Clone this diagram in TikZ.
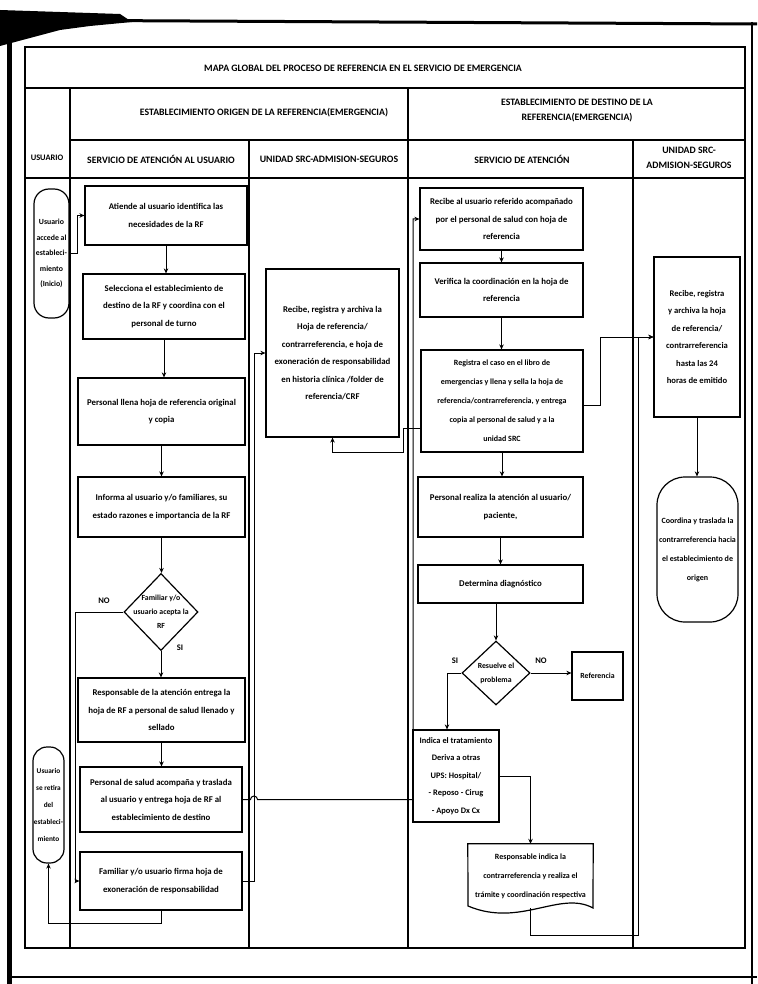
\documentclass[tikz,border=0pt]{standalone}
\usepackage{fontspec}
\setmainfont{Carlito}
\usetikzlibrary{arrows.meta,shapes.geometric,calc}
\begin{document}
\begin{tikzpicture}[x=1pt,y=-1pt,
  txt/.style={font=\fontsize{8.8}{17.5}\selectfont\bfseries},
  box/.style={draw,line width=1.2pt,align=center,inner sep=1pt,txt},
  dec/.style={draw,diamond,line width=1.2pt,inner sep=0pt},
  term/.style={draw,line width=1.2pt,inner sep=0pt},
  gridline/.style={line width=1.3pt},
  flow/.style={line width=1pt,-{Stealth[length=5pt,width=4.5pt]}},
  hdr/.style={font=\fontsize{9.8}{15}\selectfont\bfseries,align=center},
  tag/.style={font=\fontsize{8.5}{10}\selectfont\bfseries},
]
\useasboundingbox (0,0) rectangle (757,984);

% page border of the sheet
\fill (0,10) -- (60,12) -- (120,14) -- (132,22) -- (90,26) -- (60,30) -- (30,38) -- (0,46) -- cycle;
\draw[line width=3pt] (0,20) -- (757,24);
\draw[line width=5pt] (9,20) -- (9,984);
\draw[line width=1.5pt] (9,977) -- (757,977);
\draw[line width=1.2pt] (752,22) -- (752,984);

% table grid
\draw[gridline] (25,47) rectangle (745,948);
\draw[gridline] (25,88) -- (745,88);
\draw[gridline] (70,140) -- (745,140);
\draw[gridline] (25,178) -- (745,178);
\draw[gridline] (70,88) -- (70,948);
\draw[gridline] (249,140) -- (249,948);
\draw[gridline] (408,88) -- (408,948);
\draw[gridline] (633,140) -- (633,948);

% headings
\node[hdr] (title) at (363,68) {MAPA GLOBAL DEL PROCESO DE REFERENCIA EN EL SERVICIO DE EMERGENCIA};
\node[hdr] (orig) at (264,113) {ESTABLECIMIENTO ORIGEN DE LA REFERENCIA(EMERGENCIA)};
\node[hdr] (dest) at (577,111) {ESTABLECIMIENTO DE DESTINO DE LA\\REFERENCIA(EMERGENCIA)};
\node[hdr,font=\fontsize{8.4}{15}\selectfont\bfseries] (h1) at (47,158) {USUARIO};
\node[hdr] (h2) at (161,159) {SERVICIO DE ATENCIÓN AL USUARIO};
\node[hdr] (h3) at (329,159) {UNIDAD SRC-ADMISION-SEGUROS};
\node[hdr] (h4) at (522,159) {SERVICIO DE ATENCIÓN};
\node[hdr] (h5) at (689,158) {UNIDAD SRC-\\ADMISION-SEGUROS};

% usuario
\node[term,rounded corners=15pt,minimum width=35pt,minimum height=129pt] (u1) at (51.5,253.5) {};
\node[align=center,font=\fontsize{7.8}{15.5}\selectfont\bfseries] (u1t) at (u1.center) {Usuario\\accede al\\estableci-\\miento\\(Inicio)};
\node[term,rounded corners=14pt,minimum width=31pt,minimum height=116pt] (u2) at (48.5,805) {};
\node[align=center,font=\fontsize{7.3}{17}\selectfont\bfseries] (u2t) at (u2.center) {Usuario\\se retira\\del\\estableci-\\miento};

% servicio de atencion al usuario
\node[box,minimum width=162pt,minimum height=59pt] (b1) at (166,215.5) {Atiende al usuario identifica las\\necesidades de la RF};
\node[box,minimum width=162pt,minimum height=65pt] (b2) at (164,306.5) {Selecciona el establecimiento de\\destino de la RF y coordina con el\\personal de turno};
\node[box,minimum width=167pt,minimum height=67pt] (b3) at (161.5,411.5) {Personal llena hoja de referencia original\\y copia};
\node[box,minimum width=167pt,minimum height=60pt] (b4) at (161.5,507) {Informa al usuario y/o familiares, su\\estado razones e importancia de la RF};
\node[dec,minimum width=74pt,minimum height=77pt] (d5) at (161,612) {};
\node[align=center,font=\fontsize{7.8}{14}\selectfont\bfseries] (d5t) at (d5.center) {Familiar y/o\\usuario acepta la\\RF};
\node[box,minimum width=167pt,minimum height=64pt] (b6) at (161.5,710) {Responsable de la atención entrega la\\hoja de RF a personal de salud llenado y\\sellado};
\node[box,minimum width=162pt,minimum height=65pt] (b7) at (161,799.5) {Personal de salud acompaña y traslada\\al usuario y entrega hoja de RF al\\establecimiento de destino};
\node[box,minimum width=162pt,minimum height=58pt] (b8) at (161,881) {Familiar y/o usuario firma hoja de\\exoneración de responsabilidad};
\node[tag] (no1) at (104,601) {NO};
\node[tag] (si1) at (180,648) {SI};

% unidad SRC origen
\node[box,minimum width=133pt,minimum height=168pt] (src) at (332.5,353) {Recibe, registra y archiva la\\Hoja de referencia/\\contrarreferencia, e hoja de\\exoneración de responsabilidad\\en historia clínica /folder de\\referencia/CRF};

% servicio de atencion destino
\node[box,minimum width=163pt,minimum height=62pt] (A) at (501.5,219) {Recibe al usuario referido acompañado\\por el personal de salud con hoja de\\referencia};
\node[box,minimum width=163pt,minimum height=54pt] (B) at (501.5,290) {Verifica la coordinación en la hoja de\\referencia};
\node[box,minimum width=162pt,minimum height=102pt,font=\fontsize{8}{19}\selectfont\bfseries] (C) at (502,401) {Registra el caso en el libro de\\emergencias y llena y sella la hoja de\\referencia/contrarreferencia, y entrega\\copia al personal de salud y a la\\unidad SRC};
\node[box,minimum width=165pt,minimum height=60pt] (D) at (500.5,507) {Personal realiza la atención al usuario/\\paciente,};
\node[box,minimum width=165pt,minimum height=38pt] (E) at (500.5,584) {Determina diagnóstico};
\node[dec,minimum width=68pt,minimum height=64pt] (F) at (496,673) {};
\node[align=center,font=\fontsize{7.8}{14}\selectfont\bfseries] (Ft) at (F.center) {Resuelve el\\problema};
\node[box,minimum width=51pt,minimum height=48pt,font=\fontsize{7.8}{10}\selectfont\bfseries] (H) at (597.5,676) {Referencia};
\node[box,minimum width=86pt,minimum height=92pt,font=\fontsize{8.4}{17.5}\selectfont\bfseries] (G) at (456,776) {Indica el tratamiento\\Deriva a otras\\UPS: Hospital/\\- Reposo - Cirug\\- Apoyo Dx Cx};
\node[tag] (si2) at (455,661) {SI};
\node[tag] (no2) at (541,661) {NO};
\node[align=center,minimum width=125pt,minimum height=64pt,font=\fontsize{8}{19}\selectfont\bfseries] (doc) at (530.5,876) {Responsable indica la\\contrarreferencia y realiza el\\trámite y coordinación respectiva};
\draw[line width=1.2pt] (doc.north west) -- (doc.north east) -- (593,908)
  .. controls (560,890) and (520,928) .. (468,906) -- cycle;

% unidad SRC destino
\node[box,minimum width=86pt,minimum height=160pt,font=\fontsize{8.6}{17.5}\selectfont\bfseries] (I) at (697,337) {Recibe, registra\\y archiva la hoja\\de referencia/\\contrarreferencia\\hasta las 24\\horas de emitido};
\node[term,rounded corners=28pt,minimum width=81pt,minimum height=145pt] (J) at (697.5,549.5) {};
\node[align=center,font=\fontsize{8}{19}\selectfont\bfseries] (Jt) at (J.center) {Coordina y traslada la\\contrarreferencia hacia\\el establecimiento de\\origen};

% connectors, origin side
\draw[flow] (u1.east) -- (77,253.5) |- (b1.west);
\draw[flow] (b1.south) -- (b1.south |- b2.north);
\draw[flow] (b2.south) -- (b2.south |- b3.north);
\draw[flow] (b3.south) -- (b3.south |- b4.north);
\draw[flow] (b4.south) -- (b4.south |- d5.north);
\draw[flow] (d5.south) -- (d5.south |- b6.north);
\draw[flow] (b6.south) -- (b6.south |- b7.north);
\draw[flow] (d5.west) -- (75,612) |- (b8.west);
\draw[flow] (b8.south) -- (161,923) -| (u2.south);
\draw[flow] (b8.east) -- (254,881) |- (src.west);
\draw[flow] (b7.east) -- (250.5,799.5) arc[start angle=180,end angle=360,radius=3.5] -- (413,799.5) |- (A.west);

% connectors, destination side
\draw[flow] (A.south) -- (A.south |- B.north);
\draw[flow] (B.south) -- (B.south |- C.north);
\draw[flow] (C.south) -- (C.south |- D.north);
\draw[flow] (D.south) -- (D.south |- E.north);
\draw[flow] (E.south -| F.north) -- (F.north);
\draw[flow] ([yshift=-27pt]C.west) -- (403,428) -- (403,452) -| (src.south);
\draw[flow] ([yshift=-4pt]C.east) -- (600,405) |- (I.west);
\draw[flow] (F.west) -| ([xshift=-9pt]G.north);
\draw[flow] (F.east) -- (F.east -| H.west);
\draw[flow] (G.east) -| (doc.north);
\draw[flow] (doc.south) -- (530.5,935) -- (638,935) |- (I.west);
\draw[flow] (I.south) -- (I.south |- J.north);
\end{tikzpicture}
\end{document}
